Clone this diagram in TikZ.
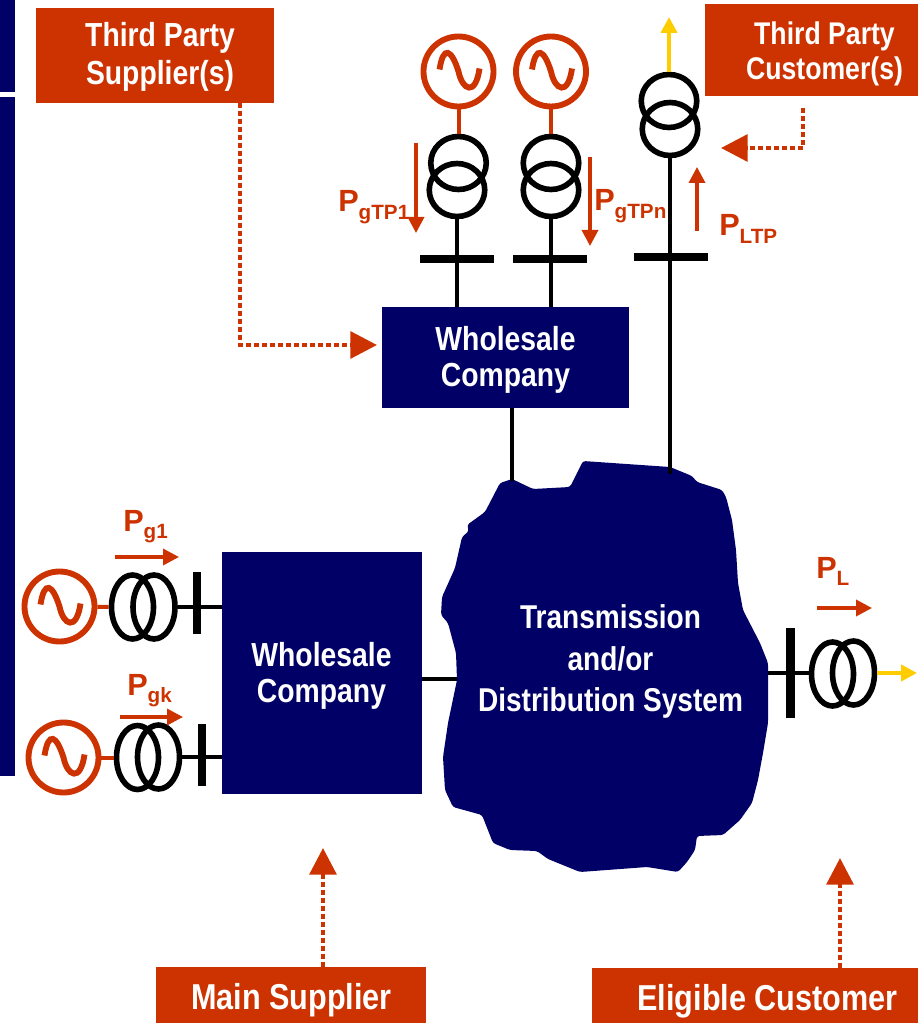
\documentclass[tikz,border=0pt]{standalone}
\usepackage{fontspec}
\setmainfont{Liberation Sans}
\newfontfamily\narrowfont[FakeStretch=0.85]{Liberation Sans}
\usetikzlibrary{arrows.meta}
\usetikzlibrary{shapes.geometric}

\definecolor{rust}{HTML}{CC3300}
\definecolor{navy}{HTML}{000066}
\definecolor{gold}{HTML}{FFCC00}
\def\px{0.75pt}
\newcommand{\plabel}[1]{\fontsize{23pt}{24pt}\selectfont P\raisebox{-5.5pt}{\fontsize{15.5pt}{17pt}\selectfont #1}}

\tikzset{
  rustbox/.style={fill=rust, text=white, inner sep=0pt, align=center, font=\narrowfont\bfseries},
  navybox/.style={fill=navy, inner sep=0pt},
  boxtext/.style={text=white, inner sep=0pt, align=center},
  gensym/.style={circle, draw=rust, line width=4.4pt, fill=white, minimum size=70*\px, inner sep=0pt},
  xfmr/.style={ellipse, draw=black, line width=4.2pt, inner sep=0pt, minimum width=55.5*\px, minimum height=53*\px},
  xfmrh/.style={ellipse, draw=black, line width=4.2pt, inner sep=0pt, minimum width=42*\px, minimum height=64*\px},
  bus/.style={fill=black, inner sep=0pt},
  wire/.style={draw=black, line width=3pt},
  genwire/.style={draw=rust, line width=3pt},
  sine/.style={draw=rust, line width=4.4pt},
  flow/.style={draw=rust, line width=2.6pt, -{Triangle[length=12pt,width=12pt]}},
  outflow/.style={draw=gold, line width=3pt, -{Triangle[length=12pt,width=12pt]}},
  dotline/.style={draw=rust, line width=3.2pt, dash pattern=on 3.75pt off 2.25pt, -{Triangle[length=20pt,width=20pt]}},
  plab/.style={text=rust, inner sep=0pt, anchor=base west, font=\bfseries},
}

\begin{document}
\begin{tikzpicture}[x=0.75pt, y=-0.75pt]
\useasboundingbox (0,0) rectangle (918,1023);

% left strip
\fill[navy] (0,0) rectangle (15,92);
\fill[navy] (0,97) rectangle (15,776);

% network blob
\fill[navy, rounded corners=2pt] (583,461) -- (670,467) -- (692,476) -- (697,482) -- (722,490) -- (726,497)
  -- (732,520) -- (736,550) -- (738,583) -- (743,610) -- (760,643) -- (768,663) -- (768,723) -- (763,753)
  -- (758,780) -- (752,803) -- (740,820) -- (723,835) -- (697,836) -- (695,850) -- (687,862) -- (678,872)
  -- (647,867) -- (580,872) -- (548,859) -- (537,851) -- (510,850) -- (493,843) -- (482,815) -- (453,807)
  -- (445,790) -- (443,757) -- (448,723) -- (457,680) -- (456,653) -- (448,623) -- (441,615) -- (442,597)
  -- (455,568) -- (462,537) -- (469,531) -- (467,525) -- (485,512) -- (500,483) -- (512,479) -- (533,489)
  -- (570,487) -- cycle;
\node[boxtext, font=\narrowfont\bfseries\fontsize{24.75pt}{31pt}\selectfont] (nettext) at (610.5,661.5) {Transmission\\and/or\\Distribution System};
\coordinate (nettop) at (512,481);
\coordinate (netltp) at (670,474);
\coordinate (netleft) at (457,679);
\coordinate (netright) at (768,673);

% boxes
\node[rustbox, minimum width=238*\px, minimum height=95*\px] (spbox) at (155,55.5) {};
\node[boxtext, font=\narrowfont\bfseries\fontsize{25pt}{29pt}\selectfont] (sptext) at (160,57) {Third Party\\Supplier(s)};
\node[rustbox, minimum width=213*\px, minimum height=92*\px] (csbox) at (811.5,50) {};
\node[boxtext, font=\narrowfont\bfseries\fontsize{23.5pt}{26pt}\selectfont] (cstext) at (824.5,54) {Third Party\\Customer(s)};
\node[rustbox, minimum width=270*\px, minimum height=56*\px] (msbox) at (291,995) {};
\node[boxtext, font=\narrowfont\bfseries\fontsize{27pt}{29pt}\selectfont] (mstext) at (291.5,1000) {Main Supplier};
\node[rustbox, minimum width=326*\px, minimum height=55*\px] (ecbox) at (755,995.5) {};
\node[boxtext, font=\narrowfont\bfseries\fontsize{27pt}{29pt}\selectfont] (ectext) at (767.5,1001) {Eligible Customer};
\node[navybox, minimum width=247*\px, minimum height=101*\px] (topwc) at (505.5,357.5) {};
\node[boxtext, font=\narrowfont\bfseries\fontsize{25pt}{27pt}\selectfont] (topwctext) at (505.5,359.5) {Wholesale\\Company};
\node[navybox, minimum width=200*\px, minimum height=242*\px] (leftwc) at (322,673) {};
\node[boxtext, font=\narrowfont\bfseries\fontsize{25pt}{27pt}\selectfont] (leftwctext) at (321.5,676) {Wholesale\\Company};

% generators
\node[gensym] (gtp1) at (458.5,71.5) {};
\node[gensym] (gtpn) at (551,71.5) {};
\node[gensym] (g1) at (59.5,606.5) {};
\node[gensym] (gk) at (63.5,757.5) {};
\foreach \g in {gtp1,gtpn,g1,gk} {
  \draw[sine, shift={(\g.center)}] (-19,-2) .. controls (-15,-27) and (-7,-22) .. (0,0) .. controls (4,19) and (17,25) .. (21,-3);
}

% transformers
\node[xfmr] (tp1a) at (458.5,163) {};
\node[xfmr] (tp1b) at (457,190) {};
\node[xfmr] (tpna) at (551,163) {};
\node[xfmr] (tpnb) at (551,190) {};
\node[xfmr] (ltpa) at (669,101) {};
\node[xfmr] (ltpb) at (670,129) {};
\node[xfmrh] (g1a) at (132.5,607) {};
\node[xfmrh] (g1b) at (154,607) {};
\node[xfmrh] (gka) at (137.5,757.5) {};
\node[xfmrh] (gkb) at (158.5,757) {};
\node[xfmrh] (la) at (832.5,674) {};
\node[xfmrh] (lb) at (853.5,673) {};

% buses
\node[bus, minimum width=74*\px, minimum height=8*\px] (bustp1) at (457,259) {};
\node[bus, minimum width=74*\px, minimum height=8*\px] (bustpn) at (550,259) {};
\node[bus, minimum width=74*\px, minimum height=8*\px] (busltp) at (671,257) {};
\node[bus, minimum width=8*\px, minimum height=62*\px] (busg1) at (197,603) {};
\node[bus, minimum width=8*\px, minimum height=62*\px] (busgk) at (201.5,755) {};
\node[bus, minimum width=9*\px, minimum height=90*\px] (busl) at (790.5,673) {};

% wires
\draw[genwire] (gtp1) -- (tp1a);
\draw[genwire] (gtpn) -- (tpna);
\draw[genwire] (g1) -- (g1a);
\draw[genwire] (gk) -- (gka);
\draw[wire] (tp1b.south) -- (tp1b.south |- topwc.north);
\draw[wire] (tpnb.south) -- (tpnb.south |- topwc.north);
\draw[wire] (ltpb.south) -- (netltp);
\draw[wire] (nettop |- topwc.south) -- (nettop);
\draw[wire] (g1b.east) -- (g1b.east -| leftwc.west);
\draw[wire] (gkb.east) -- (gkb.east -| leftwc.west);
\draw[wire] (leftwc.east |- netleft) -- (netleft);
\draw[wire] (netright) -- (netright -| la.west);

% yellow outputs
\coordinate (ltpout) at (670,17);
\coordinate (lout) at (917,673);
\draw[outflow] (ltpa.north) -- (ltpa.north |- ltpout);
\draw[outflow] (lb.east) -- (lout);

% flow arrows
\coordinate (ftp1s) at (416,143);
\coordinate (ftp1e) at (416,233);
\coordinate (ftpns) at (590,157);
\coordinate (ftpne) at (590,246);
\coordinate (fltps) at (697,231);
\coordinate (fltpe) at (697,167);
\coordinate (fg1s) at (115,557);
\coordinate (fg1e) at (179,557);
\coordinate (fgks) at (120,717);
\coordinate (fgke) at (183,717);
\coordinate (fls) at (817,608);
\coordinate (fle) at (872,608);
\draw[flow] (ftp1s) -- (ftp1e);
\draw[flow] (ftpns) -- (ftpne);
\draw[flow] (fltps) -- (fltpe);
\draw[flow] (fg1s) -- (fg1e);
\draw[flow] (fgks) -- (fgke);
\draw[flow] (fls) -- (fle);

% flow labels
\node[plab] (lbtp1) at (338,212) {\plabel{gTP1}};
\node[plab] (lbtpn) at (594,211) {\plabel{gTPn}};
\node[plab] (lbltp) at (719,236) {\plabel{LTP}};
\node[plab] (lbg1) at (123,531) {\plabel{g1}};
\node[plab] (lbgk) at (127,695) {\plabel{gk}};
\node[plab] (lbl) at (816,578) {\plabel{L}};

% dotted role arrows
\coordinate (spstart) at (240,103);
\coordinate (sptip) at (377,345);
\coordinate (csstart) at (803,108);
\coordinate (cstip) at (721,148);
\coordinate (mstip) at (323,848);
\coordinate (ectip) at (840,858);
\draw[dotline] (spstart) |- (sptip);
\draw[dotline] (csstart) |- (cstip);
\draw[dotline] (msbox.north -| mstip) -- (mstip);
\draw[dotline] (ecbox.north -| ectip) -- (ectip);
\end{tikzpicture}
\end{document}
